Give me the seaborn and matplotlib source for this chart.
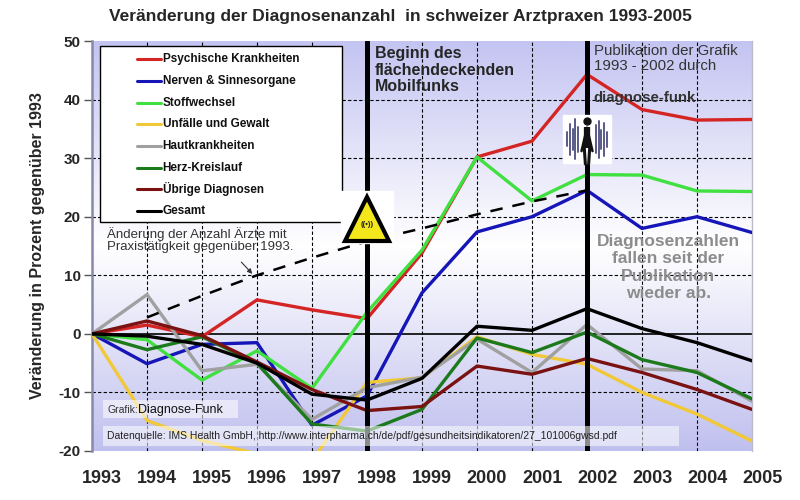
import numpy as np
import pandas as pd
import matplotlib
matplotlib.use("Agg")
import matplotlib.pyplot as plt
import matplotlib.transforms as mtransforms
from matplotlib.colors import LinearSegmentedColormap
from matplotlib.patches import Rectangle
import seaborn as sns

years = list(range(1993, 2006))
categories = ["Psychische Krankheiten", "Nerven & Sinnesorgane", "Stoffwechsel",
              "Unfälle und Gewalt", "Hautkrankheiten", "Herz-Kreislauf",
              "Übrige Diagnosen", "Gesamt"]
psychische = [0, 1.5, -0.5, 5.8, 4.1, 2.6, 13.8, 30.2, 32.9, 44.3, 38.3, 36.5, 36.6]
nerven = [0, -5.1, -1.8, -1.5, -15.6, -10.6, 7.0, 17.4, 20.0, 24.5, 18.0, 20.0, 17.3]
stoffwechsel = [0, -1.0, -7.9, -2.9, -9.3, 3.7, 14.3, 30.2, 22.7, 27.2, 27.1, 24.4, 24.3]
unfaelle = [0, -14.8, -18.2, -20.5, -21.6, -8.3, -7.5, -0.5, -3.5, -5.2, -10.0, -13.7, -18.3]
haut = [0, 6.7, -6.3, -5.2, -14.6, -9.2, -7.4, -0.9, -6.6, 1.6, -6.0, -6.3, -11.5]
herz = [0, -2.7, -0.5, -5.0, -15.4, -16.6, -12.9, -0.7, -3.2, 0.3, -4.4, -6.6, -11.1]
uebrige = [0, 2.2, -0.3, -4.8, -9.5, -13.1, -12.4, -5.5, -6.9, -4.2, -6.6, -9.5, -12.9]
gesamt = [0, -0.4, -1.8, -5.0, -10.3, -11.3, -7.6, 1.3, 0.6, 4.3, 0.9, -1.5, -4.6]
aerzte_years = list(range(1994, 2003))
aerzte = [2.8, 6.5, 10.0, 13.0, 15.8, 18.0, 20.4, 22.6, 24.5]
colors = ["#d42424", "#1515b8", "#3fe03f", "#f0c838", "#a0a0a0", "#1c7a1c", "#7a1212", "#000000"]

series = [psychische, nerven, stoffwechsel, unfaelle, haut, herz, uebrige, gesamt]
df = pd.DataFrame({
    "Jahr": years * len(categories),
    "Wert": sum(series, []),
    "Kategorie": [c for c in categories for _ in years],
})

sns.set_style("white")
plt.rcParams["font.family"] = ["Liberation Sans", "DejaVu Sans"]
narrow = ["Liberation Sans Narrow", "Liberation Sans", "DejaVu Sans"]

fig = plt.figure(figsize=(8, 5), dpi=100)
ax = fig.add_axes([92 / 800, 49 / 500, 660 / 800, 410 / 500])

# background gradient
cmap = LinearSegmentedColormap.from_list("bg", ["#c4c4f2", "#ffffff", "#c0c0ef"])
ax.imshow(np.linspace(0, 1, 256).reshape(-1, 1), cmap=cmap, extent=[0, 1, 0, 1],
          transform=ax.transAxes, aspect="auto", zorder=0)

ax.set_xlim(1993, 2005)
ax.set_ylim(-20, 50)

# grid
for yr in years[1:-1]:
    ax.axvline(yr, color="black", lw=0.8, ls=(0, (3, 2)), zorder=1)
for v in [-10, 10, 20, 30, 40]:
    ax.axhline(v, color="black", lw=0.8, ls=(0, (3, 2)), zorder=1)
ax.axhline(0, color="black", lw=1.2, zorder=1)

sns.lineplot(data=df, x="Jahr", y="Wert", hue="Kategorie", hue_order=categories,
             palette=dict(zip(categories, colors)), linewidth=2.4, legend=False,
             ax=ax, zorder=3)
sns.lineplot(x=aerzte_years, y=aerzte, color="black", linewidth=1.8, ax=ax,
             linestyle=(0, (5, 4)), zorder=3)

ax.axvline(1998, color="black", lw=3.6, zorder=4)
ax.axvline(2002, color="black", lw=3.6, zorder=4)

# spines / ticks
for s in ["top", "bottom"]:
    ax.spines[s].set_visible(False)
ax.spines["left"].set_color("#8888aa")
ax.spines["left"].set_linewidth(1.8)
ax.spines["right"].set_color("#bbbbcc")
ax.spines["right"].set_linewidth(1.0)
ax.set_xticks(years)
ax.set_xticklabels([str(y) for y in years], fontsize=13, fontweight="bold", family=narrow)
ax.tick_params(axis="x", length=0, pad=14)
offset = mtransforms.ScaledTranslation(0.1, 0, fig.dpi_scale_trans)
for lbl in ax.get_xticklabels():
    lbl.set_transform(lbl.get_transform() + offset)
ax.set_yticks(range(-20, 51, 10))
ax.set_yticklabels([str(v) for v in range(-20, 51, 10)], fontsize=11, fontweight="bold")
ax.tick_params(axis="y", length=6, width=1, color="#555555", pad=2, direction="out", left=True)
ax.set_xlabel("")
ax.set_ylabel("Veränderung in Prozent gegenüber 1993", fontsize=11.5, fontweight="bold", labelpad=10)

fig.text(0.5, 0.966, "Veränderung der Diagnosenanzahl  in schweizer Arztpraxen 1993-2005",
         ha="center", va="center", fontsize=12.5, fontweight="bold", family=narrow)

# legend box
ax.add_patch(Rectangle((0.012, 0.559), 0.367, 0.429, transform=ax.transAxes,
                       facecolor="white", edgecolor="black", lw=1, zorder=6))
for i, (name, c) in enumerate(zip(categories, colors)):
    yy = 0.956 - i * 0.053
    ax.plot([0.068, 0.105], [yy, yy], transform=ax.transAxes, color=c, lw=2.2, zorder=7)
    ax.text(0.107, yy, name, transform=ax.transAxes, fontsize=8.5, fontweight="bold",
            va="center", ha="left", color="#111111", zorder=7)

# annotations
ax.text(0.429, 0.987, "Beginn des\nflächendeckenden\nMobilfunks", transform=ax.transAxes,
        fontsize=11.5, fontweight="bold", va="top", ha="left", linespacing=1.1, zorder=7)
ax.text(0.760, 0.992, "Publikation der Grafik\n1993 - 2002 durch", transform=ax.transAxes,
        fontsize=10.8, va="top", ha="left", color="#333333", linespacing=1.05, zorder=7)
ax.text(0.760, 0.878, "diagnose-funk", transform=ax.transAxes, fontsize=10.8,
        fontweight="bold", va="top", ha="left", color="#333333", zorder=7)
ax.text(0.873, 0.530, "Diagnosenzahlen\nfallen seit der\nPublikation\nwieder ab.",
        transform=ax.transAxes, fontsize=12.5, fontweight="bold", va="top", ha="center",
        color="#8c8c8c", linespacing=1.2, zorder=7)
ax.text(0.023, 0.547, "Änderung der Anzahl Ärzte mit\nPraxistätigkeit gegenüber 1993.",
        transform=ax.transAxes, fontsize=9.5, va="top", ha="left", color="#333333",
        linespacing=1.05, zorder=7)
ax.annotate("", xy=(1995.95, 9.9), xytext=(1995.68, 12.6),
            arrowprops=dict(arrowstyle="-|>", color="#333333", lw=0.8, mutation_scale=7), zorder=7)

ax.add_patch(Rectangle((0.016, 0.080), 0.205, 0.044, transform=ax.transAxes,
                       facecolor="white", alpha=0.55, edgecolor="none", zorder=6))
ax.text(0.023, 0.100, "Grafik:", transform=ax.transAxes, fontsize=7.5, va="center",
        color="#333333", zorder=7)
ax.text(0.069, 0.100, "Diagnose-Funk", transform=ax.transAxes, fontsize=9, va="center",
        color="#111111", zorder=7)
ax.add_patch(Rectangle((0.016, 0.012), 0.873, 0.048, transform=ax.transAxes,
                       facecolor="white", alpha=0.55, edgecolor="none", zorder=6))
ax.text(0.023, 0.036,
        "Datenquelle: IMS Health GmbH, http://www.interpharma.ch/de/pdf/gesundheitsindikatoren/27_101006gwsd.pdf",
        transform=ax.transAxes, fontsize=7.5, va="center", color="#222222", zorder=7)

# warning sign at 1998
ax.plot(1998, 20.0, marker="s", ms=37, color="white", mec="white", zorder=8)
ax.plot(1998, 19.6, marker="^", ms=31, color="#f4e81c", mec="black", mew=3, zorder=9)
ax.text(1998, 18.6, "((•))", fontsize=5.5, fontweight="bold", ha="center", va="center",
        color="#222222", zorder=10)

# person icon at 2002
ax.plot(2002, 33.2, marker="s", ms=35, color="white", mec="white", zorder=8)
wave_dx = [-0.36, -0.31, -0.26, -0.21, -0.16, 0.16, 0.21, 0.26, 0.31, 0.36]
wave_h = [1.2, 2.6, 1.8, 3.4, 2.2, 2.4, 3.2, 1.6, 2.8, 1.3]
for dx, h in zip(wave_dx, wave_h):
    ax.plot([2002 + dx, 2002 + dx], [33.2 - h, 33.2 + h], color="#5a5a8a", lw=1.4, zorder=9)
ax.plot(2002, 36.3, marker="o", ms=5, color="#111111", zorder=10)
ax.plot([2002, 2002], [35.4, 31.8], color="#111111", lw=4.5, solid_capstyle="butt", zorder=10)
ax.plot([2001.9, 2002, 2002.1], [31.2, 35.2, 31.2], color="#111111", lw=1.8, zorder=10)
ax.plot([2001.95, 2001.97], [31.9, 29.0], color="#111111", lw=2.2, zorder=10)
ax.plot([2002.05, 2002.03], [31.9, 29.0], color="#111111", lw=2.2, zorder=10)

fig.savefig("out.png", dpi=100, facecolor="white")
